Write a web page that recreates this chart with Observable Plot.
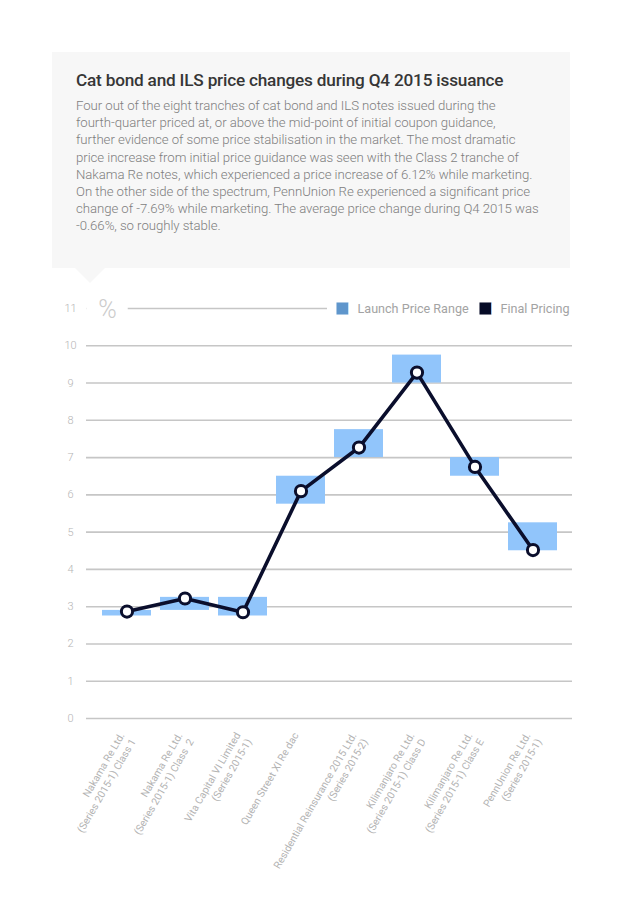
<!DOCTYPE html>
<html><head><meta charset="utf-8">
<script src="https://cdn.jsdelivr.net/npm/d3@7"></script>
<script src="https://cdn.jsdelivr.net/npm/@observablehq/plot@0.6"></script>
<style>
body{margin:0;background:#fff;width:636px;height:900px;position:relative;overflow:hidden;font-family:Roboto,sans-serif;}
#box{position:absolute;left:52px;top:52px;width:518px;height:216px;background:#f7f7f7;}
#box:after{content:"";position:absolute;left:23px;top:216px;border-left:15px solid transparent;border-right:15px solid transparent;border-top:15px solid #f7f7f7;}
#title{position:absolute;left:24px;top:18px;font-size:17.2px;line-height:20px;font-weight:500;color:#363636;white-space:nowrap;letter-spacing:-0.2px}
#sub{position:absolute;left:24px;top:45px;font-size:13.2px;line-height:17.2px;font-weight:300;color:#7e7e7e;white-space:nowrap;letter-spacing:-0.05px}
#chart{position:absolute;left:0;top:290px;}
</style></head>
<body>
<div id="box">
<div id="title">Cat bond and ILS price changes during Q4 2015 issuance</div>
<div id="sub">Four out of the eight tranches of cat bond and ILS notes issued during the<br>fourth-quarter priced at, or above the mid-point of initial coupon guidance,<br>further evidence of some price stabilisation in the market. The most dramatic<br>price increase from initial price guidance was seen with the Class 2 tranche of<br>Nakama Re notes, which experienced a price increase of 6.12% while marketing.<br>On the other side of the spectrum, PennUnion Re experienced a significant price<br>change of -7.69% while marketing. The average price change during Q4 2015 was<br>-0.66%, so roughly stable.</div>
</div>
<div id="chart"></div>
<script>
const categories = [
  "Nakama Re Ltd.\n(Series 2015-1) Class 1",
  "Nakama Re Ltd.\n(Series 2015-1) Class  2",
  "Vita Capital VI Limited\n(Series 2015-1)",
  "Queen Street XI Re dac",
  "Residential Reinsurance 2015 Ltd.\n(Series 2015-2)",
  "Kilimanjaro Re Ltd.\n(Series 2015-1) Class D",
  "Kilimanjaro Re Ltd.\n(Series 2015-1) Class E",
  "PennUnion Re Ltd.\n(Series 2015-1)"
];
const launchLow  = [2.75, 2.9, 2.75, 5.75, 7.0, 9.0, 6.5, 4.5];
const launchHigh = [2.9, 3.25, 3.25, 6.5, 7.75, 9.75, 7.0, 5.25];
const finalPricing = [2.87, 3.22, 2.85, 6.1, 7.27, 9.28, 6.75, 4.52];
const yTicks = [0,1,2,3,4,5,6,7,8,9,10,11];
const legendLabels = ["Launch Price Range", "Final Pricing"];
const unitLabel = "%";

const rows = categories.map((c, i) => ({c, lo: launchLow[i], hi: launchHigh[i], f: finalPricing[i]}));

const barColor = "#91c5fb";
const lineColor = "#0a0e2c";

const plot = Plot.plot({
  width: 636, height: 610,
  marginLeft: 86, marginRight: 64, marginTop: 18, marginBottom: 182,
  style: {fontFamily: "Roboto, sans-serif", background: "transparent", overflow: "visible"},
  x: {domain: categories, paddingInner: 0.157, paddingOuter: 0.261, axis: null},
  y: {domain: [0, 11], axis: null},
  marks: [
    Plot.ruleY(yTicks, {stroke: "#c6c6c6", strokeWidth: 1.6}),
    // header row masks
    Plot.dot([0], {frameAnchor: "top-left", dx: 20.5, symbol: "square", r: 23.4, fill: "white"}),
    Plot.dot([0], {frameAnchor: "top-left", dx: 256, symbol: "square", r: 17.5, fill: "white"}),
    Plot.dot([0], {frameAnchor: "top-left", dx: 399, symbol: "square", r: 17.5, fill: "white"}),
    Plot.text([unitLabel], {frameAnchor: "top-left", dx: 21, dy: 1, text: d => d, fontSize: 25, fontWeight: 300, fill: "#cccccc", textAnchor: "middle", lineAnchor: "middle"}),
    Plot.dot([0], {frameAnchor: "top-left", dx: 256, symbol: "square", r: 6.8, fill: "#5f96cc"}),
    Plot.dot([0], {frameAnchor: "top-left", dx: 399, symbol: "square", r: 6.8, fill: "#060b26"}),
    Plot.text([legendLabels[0]], {frameAnchor: "top-left", dx: 271, text: d => d, fontSize: 12.6, fill: "#a3a3a3", stroke: "white", strokeWidth: 20, textAnchor: "start", lineAnchor: "middle"}),
    Plot.text([legendLabels[1]], {frameAnchor: "top-left", dx: 414, text: d => d, fontSize: 12.6, fill: "#a3a3a3", stroke: "white", strokeWidth: 20, textAnchor: "start", lineAnchor: "middle"}),
    // y tick labels
    Plot.text(yTicks, {y: d => d, frameAnchor: "left", dx: -16, text: d => String(d), textAnchor: "middle", lineAnchor: "middle", fontSize: 11, fontWeight: 300, fill: "#b5b5b5"}),
    // bars
    Plot.barY(rows, {x: "c", y1: "lo", y2: "hi", fill: barColor}),
    Plot.line(rows, {x: "c", y: "f", stroke: lineColor, strokeWidth: 3.6}),
    Plot.dot(rows, {x: "c", y: "f", r: 5.6, fill: "white", stroke: lineColor, strokeWidth: 3}),
    // x labels
    Plot.text(rows, {x: "c", y: () => 0, text: "c", rotate: -60, textAnchor: "end", lineAnchor: "top", lineHeight: 1.25, dx: -10, dy: 12, fontSize: 10.3, fontWeight: 400, fill: "#b3b3b3"})
  ]
});
document.getElementById("chart").appendChild(plot);
</script>
</body></html>
